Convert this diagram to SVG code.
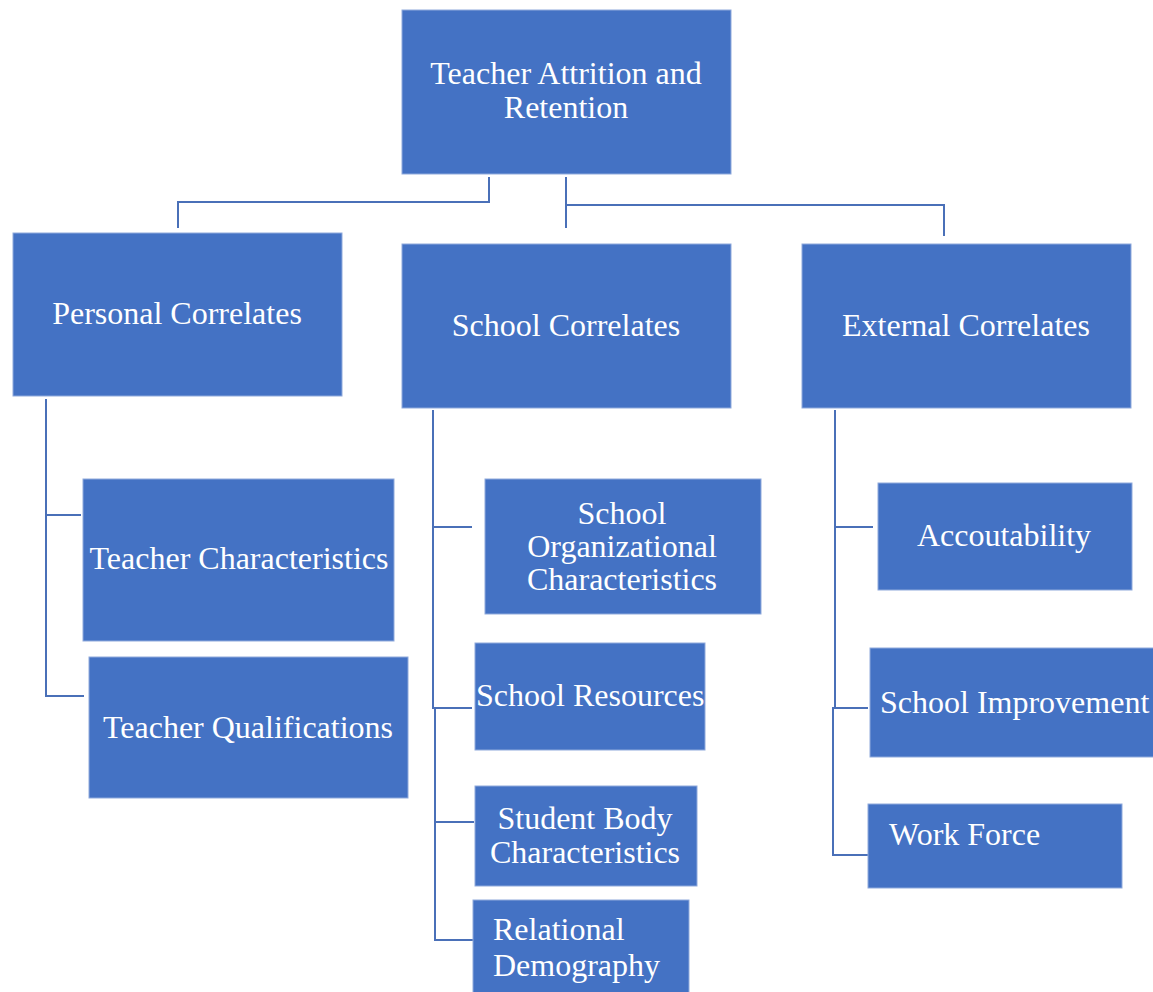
<svg xmlns="http://www.w3.org/2000/svg" width="1153" height="992" viewBox="0 0 1153 992">
<style>
.box{fill:#4472C4;stroke:#8FAADC;stroke-width:1}
.t{font-family:'Liberation Serif','Times New Roman',serif;font-size:32px;fill:#FFFFFF}
.c{text-anchor:middle}
.ln{fill:none;stroke:#4A70B8;stroke-width:2}
</style>
<rect width="1153" height="992" fill="#FFFFFF"/>
<g id="connectors">
<polyline class="ln" points="489,177 489,202 178,202 178,228"/>
<line class="ln" x1="566" y1="177" x2="566" y2="228"/>
<polyline class="ln" points="566,205 944,205 944,236"/>
<polyline class="ln" points="46,399 46,696 84,696"/>
<line class="ln" x1="46" y1="515" x2="81" y2="515"/>
<polyline class="ln" points="433,410 433,708 435,708 435,940 473,940"/>
<line class="ln" x1="433" y1="527" x2="472" y2="527"/>
<line class="ln" x1="433" y1="708" x2="472" y2="708"/>
<line class="ln" x1="435" y1="822" x2="474" y2="822"/>
<polyline class="ln" points="835,410 835,708 833,708 833,855 868,855"/>
<line class="ln" x1="835" y1="527" x2="873" y2="527"/>
<line class="ln" x1="835" y1="708" x2="868" y2="708"/>
</g>
<g id="root"><rect class="box" x="402" y="10" width="329" height="164"/><text class="t c" x="566" y="84">Teacher Attrition and</text><text class="t c" x="566" y="118">Retention</text></g>
<g id="personal"><rect class="box" x="13" y="233" width="329" height="163"/><text class="t c" x="177" y="324">Personal Correlates</text></g>
<g id="school"><rect class="box" x="402" y="244" width="329" height="164"/><text class="t c" x="566" y="336">School Correlates</text></g>
<g id="external"><rect class="box" x="802" y="244" width="329" height="164"/><text class="t c" x="966" y="336">External Correlates</text></g>
<g id="teacher-characteristics"><rect class="box" x="83" y="479" width="311" height="162"/><text class="t c" x="239" y="569">Teacher Characteristics</text></g>
<g id="teacher-qualifications"><rect class="box" x="89" y="657" width="319" height="141"/><text class="t c" x="248" y="738">Teacher Qualifications</text></g>
<g id="school-org"><rect class="box" x="485" y="479" width="276" height="135"/><text class="t c" x="622" y="524">School</text><text class="t c" x="622" y="557">Organizational</text><text class="t c" x="622" y="590">Characteristics</text></g>
<g id="school-resources"><rect class="box" x="475" y="643" width="230" height="107"/><text class="t" x="476" y="706">School Resources</text></g>
<g id="student-body"><rect class="box" x="475" y="786" width="222" height="100"/><text class="t c" x="585" y="829">Student Body</text><text class="t c" x="585" y="863">Characteristics</text></g>
<g id="relational"><rect class="box" x="473" y="900" width="216" height="100"/><text class="t" x="493" y="940">Relational</text><text class="t" x="493" y="976">Demography</text></g>
<g id="accountability"><rect class="box" x="878" y="483" width="254" height="107"/><text class="t c" x="1004" y="546">Accoutability</text></g>
<g id="school-improvement"><rect class="box" x="870" y="648" width="290" height="109"/><text class="t" x="880" y="713">School Improvement</text></g>
<g id="work-force"><rect class="box" x="868" y="804" width="254" height="84"/><text class="t" x="889" y="845">Work Force</text></g>
</svg>
